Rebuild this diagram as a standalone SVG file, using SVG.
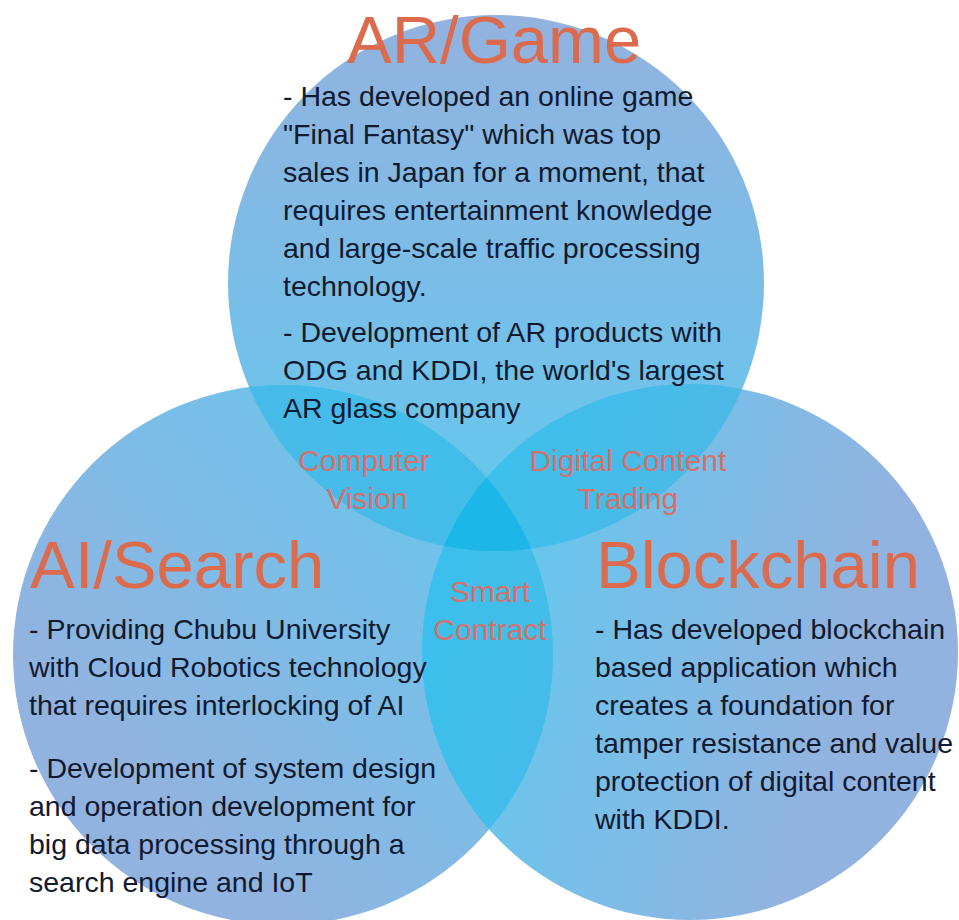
<svg xmlns="http://www.w3.org/2000/svg" width="959" height="920" viewBox="0 0 959 920">
  <defs>
    <linearGradient id="gTop" x1="0.5" y1="0" x2="0.5" y2="1">
      <stop offset="0" stop-color="#93b2df"/>
      <stop offset="1" stop-color="#60c9ef"/>
    </linearGradient>
    <linearGradient id="gLeft" x1="1" y1="0.05" x2="0.25" y2="0.75">
      <stop offset="0" stop-color="#60c9ef"/>
      <stop offset="1" stop-color="#92b3e0"/>
    </linearGradient>
    <linearGradient id="gRight" x1="0.05" y1="0.4" x2="0.78" y2="0.6">
      <stop offset="0" stop-color="#60c9ef"/>
      <stop offset="1" stop-color="#92b3e0"/>
    </linearGradient>
    <clipPath id="cTop"><circle cx="496" cy="283" r="268"/></clipPath>
    <clipPath id="cLeft"><circle cx="283" cy="655" r="270"/></clipPath>
    <style>
      .ov { fill: #0bb3e6; fill-opacity: 0.42; }
      .title { font-family: "Liberation Sans", Arial, sans-serif; font-size: 67px; fill: #dc6a4d; }
      .body { font-family: "Liberation Sans", Arial, sans-serif; font-size: 28.5px; fill: #111a2e; }
      .inter { font-family: "Liberation Sans", Arial, sans-serif; font-size: 30px; fill: #d4716a; text-anchor: middle; }
    </style>
  </defs>
  <rect width="959" height="920" fill="#ffffff"/>

  <g id="circles">
    <circle cx="496" cy="283" r="268" fill="url(#gTop)"/>
    <circle cx="283" cy="655" r="270" fill="url(#gLeft)"/>
    <circle cx="690" cy="652" r="268" fill="url(#gRight)"/>
  </g>
  <g id="overlaps">
    <circle class="ov" cx="283" cy="655" r="270" clip-path="url(#cTop)"/>
    <circle class="ov" cx="690" cy="652" r="268" clip-path="url(#cTop)"/>
    <circle class="ov" cx="690" cy="652" r="268" clip-path="url(#cLeft)"/>
  </g>

  <g id="ar-game">
    <text class="title" x="347" y="63">AR/Game</text>
    <text class="body" x="283" y="106">- Has developed an online game</text>
    <text class="body" x="283" y="144">"Final Fantasy" which was top</text>
    <text class="body" x="283" y="182">sales in Japan for a moment, that</text>
    <text class="body" x="283" y="220">requires entertainment knowledge</text>
    <text class="body" x="283" y="258">and large-scale traffic processing</text>
    <text class="body" x="283" y="296">technology.</text>
    <text class="body" x="283" y="342">- Development of AR products with</text>
    <text class="body" x="283" y="380">ODG and KDDI, the world's largest</text>
    <text class="body" x="283" y="418">AR glass company</text>
  </g>

  <g id="ai-search">
    <text class="title" x="30" y="588">AI/Search</text>
    <text class="body" x="29" y="639">- Providing Chubu University</text>
    <text class="body" x="29" y="677">with Cloud Robotics technology</text>
    <text class="body" x="29" y="715">that requires interlocking of AI</text>
    <text class="body" x="29" y="778">- Development of system design</text>
    <text class="body" x="29" y="816">and operation development for</text>
    <text class="body" x="29" y="854">big data processing through a</text>
    <text class="body" x="29" y="892">search engine and IoT</text>
  </g>

  <g id="blockchain">
    <text class="title" x="596" y="588">Blockchain</text>
    <text class="body" x="595" y="639">- Has developed blockchain</text>
    <text class="body" x="595" y="677">based application which</text>
    <text class="body" x="595" y="715">creates a foundation for</text>
    <text class="body" x="595" y="753">tamper resistance and value</text>
    <text class="body" x="595" y="791">protection of digital content</text>
    <text class="body" x="595" y="829">with KDDI.</text>
  </g>

  <g id="computer-vision">
    <text class="inter" x="364" y="471">Computer</text>
    <text class="inter" x="367" y="509">Vision</text>
  </g>
  <g id="digital-content-trading">
    <text class="inter" x="628" y="471">Digital Content</text>
    <text class="inter" x="628" y="509">Trading</text>
  </g>
  <g id="smart-contract">
    <text class="inter" x="490" y="602">Smart</text>
    <text class="inter" x="490" y="640">Contract</text>
  </g>
</svg>
